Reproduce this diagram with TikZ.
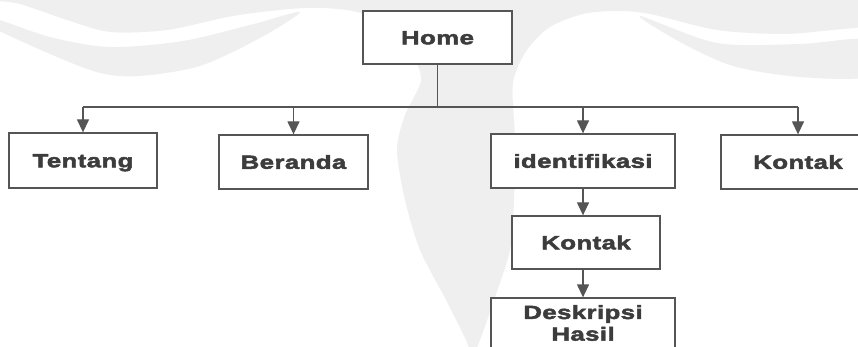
\documentclass[tikz,border=0pt]{standalone}
\usepackage{fontspec}
\newfontfamily\boxfont{Liberation Sans Bold}[FakeStretch=1.36,LetterSpace=2,FakeBold=2.5]
\usetikzlibrary{arrows.meta}
\definecolor{ink}{RGB}{60,60,60}
\definecolor{frame}{RGB}{85,85,85}
\definecolor{wm}{RGB}{239,239,239}

\begin{document}
\begin{tikzpicture}[x=1pt,y=-1pt,
  menu/.style={draw=frame, line width=1.3pt, fill=white, text=ink,
    font=\boxfont\fontsize{19}{21.7}\selectfont,
    inner sep=0pt, text height=13.6pt, text depth=0pt},
  link/.style={draw=frame, line width=1.3pt},
  arr/.style={link, -{Triangle[length=13pt,width=12pt]}}]

\useasboundingbox (0,0) rectangle (858,347);
\clip (0,0) rectangle (858,347);

% faint emblem in the background
\fill[wm] (-5,-5) -- plot[smooth] coordinates {(-5,1) (20,4) (67,20) (110,32)
  (167,30) (233,16) (290,9) (323,8) (357,12) (390,25) (410,50) (421,80)
  (405,115) (397,150) (405,200) (420,250) (446,300) (466,340) (472,355)
  (480,340) (494,300) (510,250) (514,200) (515,140) (513,83) (527,50)
  (550,27) (583,14) (617,11) (650,14) (717,30) (783,34) (833,30) (865,27)}
  -- (865,-5) -- cycle;
\fill[wm] plot[smooth cycle] coordinates {(-10,17) (50,37) (110,47) (183,41)
  (250,25) (300,12) (260,38) (200,66) (140,76) (100,73) (50,54) (-10,26)};
\fill[wm] plot[smooth cycle] coordinates {(640,16) (717,43) (800,44) (870,40)
  (870,76) (800,77) (733,66) (680,42)};

% menu boxes
\node[menu, minimum width=149pt, minimum height=53pt] (home) at (437.5,37.5) {Home};
\node[menu, minimum width=148pt, minimum height=55pt] (tentang) at (83,160.5) {Tentang};
\node[menu, minimum width=149pt, minimum height=54pt] (beranda) at (293.5,162) {Beranda};
\node[menu, minimum width=184pt, minimum height=54pt] (ident) at (583,161) {identifikasi};
\node[menu, minimum width=154pt, minimum height=54pt] (kontak) at (798,162) {Kontak};
\node[menu, minimum width=148pt, minimum height=53pt] (kontaksub) at (586,242.5) {Kontak};
\node[menu, minimum width=184pt, minimum height=50pt, text height=, text depth=,
  align=center] (deskripsi) at (583,323) {Deskripsi\\Hasil};

% connectors
\coordinate (bus) at (0,107);
\draw[link] (home.south) -- (home.south |- bus);
\draw[link] (tentang.north |- bus) -- (kontak.north |- bus);
\draw[arr] (tentang.north |- bus) -- (tentang.north);
\draw[arr] (beranda.north |- bus) -- (beranda.north);
\draw[arr] (ident.north |- bus) -- (ident.north);
\draw[arr] (kontak.north |- bus) -- (kontak.north);
\draw[arr] (ident.south) -- (ident.south |- kontaksub.north);
\draw[arr] (ident.south |- kontaksub.south) -- (deskripsi.north);
\end{tikzpicture}
\end{document}
